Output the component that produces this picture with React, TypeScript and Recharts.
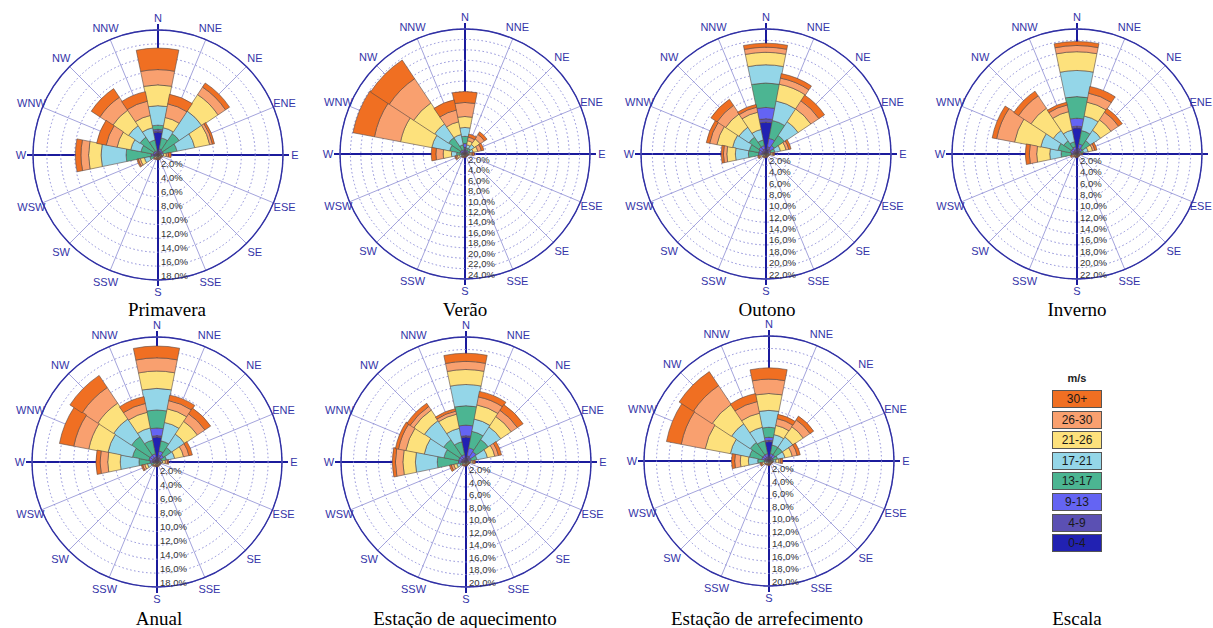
import React from 'react';
import { RadialBarChart, RadialBar, PolarGrid, PolarAngleAxis, PolarRadiusAxis } from 'recharts';

const directions = ['N', 'NNE', 'NE', 'ENE', 'E', 'ESE', 'SE', 'SSE', 'S', 'SSW', 'SW', 'WSW', 'W', 'WNW', 'NW', 'NNW'];
const speedClasses = ['0-4', '4-9', '9-13', '13-17', '17-21', '21-26', '26-30', '30+'];
const classColors = ['#2121b2', '#5b50b3', '#6464f3', '#4cb592', '#94d6e8', '#fde17c', '#f9a06f', '#f06f22'];

// frequency (%) per direction (rows) and speed class (columns, 0-4 ... 30+)
const primavera = [
  [3.3, 0.2, 0.2, 0.6, 2.8, 3.0, 2.2, 3.1],
  [0.3, 0.3, 0.3, 1.6, 1.5, 1.5, 2.0, 1.4],
  [0.3, 0.2, 0.3, 2.9, 3.9, 2.8, 1.3, 0.7],
  [0.2, 0.3, 0.3, 2.0, 2.6, 2.2, 0.4, 0.3],
  [0.1, 0.1, 0.1, 0.2, 0.3, 0.4, 0.3, 0.4],
  [0.1, 0.05, 0.05, 0.1, 0.1, 0.1, 0.1, 0.1],
  [0.1, 0.05, 0.05, 0.05, 0.1, 0.1, 0.05, 0.05],
  [0.1, 0.05, 0.05, 0.1, 0.1, 0.1, 0.1, 0.1],
  [0.1, 0.05, 0.05, 0.1, 0.1, 0.1, 0.1, 0.1],
  [0.1, 0.05, 0.05, 0.1, 0.1, 0.1, 0.1, 0.1],
  [0.1, 0.05, 0.05, 0.1, 0.15, 0.15, 0.1, 0.1],
  [0.2, 0.2, 0.2, 0.6, 0.8, 0.6, 0.3, 0.2],
  [0.3, 0.3, 0.4, 3.6, 3.6, 1.8, 1.1, 0.8],
  [0.2, 0.2, 0.3, 1.8, 1.5, 2.0, 1.6, 1.4],
  [0.2, 0.2, 0.3, 2.4, 2.0, 2.7, 2.2, 1.5],
  [0.2, 0.2, 0.2, 1.6, 1.8, 1.8, 2.1, 1.4],
];
const verao = [
  [0.8, 0.5, 0.7, 1.4, 1.7, 2.1, 2.7, 2.1],
  [0.3, 0.2, 0.3, 0.4, 0.6, 0.8, 0.7, 0.6],
  [0.3, 0.2, 0.3, 0.5, 0.9, 1.3, 1.0, 0.6],
  [0.2, 0.2, 0.2, 0.4, 0.6, 0.9, 0.7, 0.5],
  [0.1, 0.1, 0.1, 0.2, 0.3, 0.4, 0.3, 0.3],
  [0.1, 0.05, 0.05, 0.1, 0.1, 0.1, 0.1, 0.05],
  [0.1, 0.05, 0.05, 0.05, 0.1, 0.1, 0.05, 0.05],
  [0.1, 0.05, 0.05, 0.1, 0.1, 0.1, 0.05, 0.05],
  [0.1, 0.05, 0.05, 0.1, 0.1, 0.1, 0.1, 0.1],
  [0.1, 0.05, 0.05, 0.1, 0.1, 0.1, 0.1, 0.1],
  [0.1, 0.05, 0.1, 0.1, 0.15, 0.15, 0.1, 0.1],
  [0.1, 0.1, 0.2, 0.3, 0.4, 0.4, 0.3, 0.2],
  [0.2, 0.2, 0.3, 0.9, 1.0, 1.6, 1.4, 0.9],
  [0.3, 0.3, 0.4, 2.0, 3.5, 6.1, 5.1, 4.2],
  [0.3, 0.3, 0.4, 2.8, 3.2, 4.8, 5.6, 4.3],
  [0.3, 0.2, 0.3, 1.0, 2.0, 2.5, 2.3, 2.0],
];
const outono = [
  [5.6, 0.6, 2.0, 4.3, 3.2, 2.2, 0.9, 0.7],
  [0.8, 0.5, 1.5, 3.2, 3.5, 3.0, 1.1, 0.8],
  [0.6, 0.4, 0.8, 2.1, 2.9, 2.7, 1.7, 1.2],
  [0.3, 0.2, 0.4, 0.7, 1.0, 1.0, 0.5, 0.4],
  [0.1, 0.1, 0.1, 0.2, 0.3, 0.3, 0.2, 0.2],
  [0.1, 0.05, 0.05, 0.1, 0.1, 0.1, 0.05, 0.05],
  [0.1, 0.05, 0.05, 0.05, 0.1, 0.1, 0.05, 0.05],
  [0.1, 0.05, 0.05, 0.1, 0.1, 0.1, 0.05, 0.05],
  [0.1, 0.05, 0.05, 0.1, 0.1, 0.1, 0.1, 0.05],
  [0.1, 0.05, 0.05, 0.1, 0.1, 0.1, 0.1, 0.1],
  [0.1, 0.05, 0.05, 0.1, 0.1, 0.15, 0.1, 0.1],
  [0.1, 0.1, 0.1, 0.2, 0.3, 0.3, 0.2, 0.2],
  [0.3, 0.3, 0.7, 1.8, 2.3, 1.5, 0.6, 0.4],
  [0.4, 0.3, 0.6, 1.7, 3.0, 2.8, 1.3, 0.6],
  [0.4, 0.4, 0.7, 2.1, 2.1, 2.8, 1.8, 1.3],
  [0.5, 0.4, 0.6, 1.0, 1.9, 3.1, 0.9, 0.5],
];
const inverno = [
  [4.6, 0.3, 1.4, 3.8, 4.6, 3.3, 1.1, 0.7],
  [0.6, 0.4, 0.8, 2.4, 2.6, 2.5, 1.6, 1.2],
  [0.4, 0.3, 0.5, 1.6, 2.2, 2.2, 1.6, 0.8],
  [0.2, 0.2, 0.3, 0.5, 0.8, 0.8, 0.4, 0.4],
  [0.1, 0.1, 0.1, 0.1, 0.2, 0.2, 0.1, 0.1],
  [0.1, 0.05, 0.05, 0.05, 0.1, 0.1, 0.05, 0.05],
  [0.1, 0.05, 0.05, 0.05, 0.05, 0.1, 0.05, 0.05],
  [0.1, 0.05, 0.05, 0.05, 0.1, 0.1, 0.05, 0.05],
  [0.1, 0.05, 0.05, 0.1, 0.1, 0.1, 0.05, 0.05],
  [0.1, 0.05, 0.05, 0.1, 0.1, 0.1, 0.1, 0.05],
  [0.1, 0.05, 0.05, 0.1, 0.1, 0.1, 0.1, 0.1],
  [0.1, 0.1, 0.1, 0.1, 0.2, 0.2, 0.2, 0.2],
  [0.3, 0.3, 0.4, 1.8, 2.0, 2.3, 1.3, 0.7],
  [0.4, 0.3, 0.5, 2.2, 3.1, 4.7, 3.2, 0.8],
  [0.4, 0.3, 0.5, 1.6, 2.2, 4.7, 2.6, 1.0],
  [0.4, 0.4, 0.5, 0.9, 2.1, 3.3, 1.2, 0.5],
];
const anual = [
  [3.6, 0.2, 1.1, 2.6, 3.1, 2.5, 1.9, 1.7],
  [0.6, 0.4, 0.6, 1.5, 2.7, 2.0, 1.2, 0.8],
  [0.4, 0.3, 0.5, 1.3, 2.3, 2.2, 1.3, 1.0],
  [0.2, 0.2, 0.3, 0.7, 1.2, 1.3, 0.8, 0.5],
  [0.1, 0.1, 0.1, 0.2, 0.3, 0.4, 0.3, 0.2],
  [0.1, 0.05, 0.05, 0.1, 0.1, 0.1, 0.1, 0.05],
  [0.1, 0.05, 0.05, 0.05, 0.1, 0.1, 0.05, 0.05],
  [0.1, 0.05, 0.05, 0.1, 0.1, 0.1, 0.1, 0.05],
  [0.1, 0.05, 0.05, 0.1, 0.1, 0.1, 0.1, 0.1],
  [0.1, 0.05, 0.05, 0.1, 0.1, 0.1, 0.1, 0.1],
  [0.1, 0.05, 0.05, 0.1, 0.15, 0.15, 0.1, 0.1],
  [0.2, 0.1, 0.2, 0.4, 0.5, 0.4, 0.3, 0.2],
  [0.3, 0.3, 0.4, 1.6, 2.7, 1.8, 1.1, 0.6],
  [0.4, 0.3, 0.5, 2.4, 3.6, 2.8, 2.2, 2.1],
  [0.4, 0.3, 0.5, 3.2, 3.1, 2.7, 2.7, 2.1],
  [0.4, 0.3, 0.5, 2.0, 1.8, 2.3, 1.3, 1.0],
];
const aquecimento = [
  [4.0, 0.2, 1.7, 3.1, 3.4, 2.4, 1.3, 1.3],
  [0.6, 0.4, 1.3, 2.7, 2.0, 2.3, 1.3, 0.9],
  [0.5, 0.4, 1.1, 2.3, 2.4, 2.0, 1.2, 1.1],
  [0.3, 0.2, 0.4, 0.9, 1.7, 1.2, 0.6, 0.5],
  [0.1, 0.1, 0.1, 0.2, 0.3, 0.3, 0.2, 0.2],
  [0.1, 0.05, 0.05, 0.1, 0.1, 0.1, 0.05, 0.05],
  [0.1, 0.05, 0.05, 0.05, 0.1, 0.1, 0.05, 0.05],
  [0.1, 0.05, 0.05, 0.1, 0.1, 0.1, 0.05, 0.05],
  [0.1, 0.05, 0.05, 0.1, 0.1, 0.1, 0.1, 0.05],
  [0.1, 0.05, 0.05, 0.1, 0.1, 0.1, 0.1, 0.1],
  [0.1, 0.05, 0.05, 0.1, 0.15, 0.15, 0.1, 0.1],
  [0.2, 0.2, 0.2, 0.4, 0.5, 0.5, 0.4, 0.3],
  [0.4, 0.3, 0.5, 3.4, 3.5, 2.0, 1.2, 0.5],
  [0.4, 0.3, 0.5, 2.4, 3.2, 3.0, 1.2, 0.5],
  [0.4, 0.3, 0.5, 3.1, 3.7, 2.0, 0.7, 0.6],
  [0.4, 0.3, 0.5, 2.1, 2.2, 2.3, 0.5, 0.4],
];
const arrefecimento = [
  [3.1, 0.2, 0.5, 1.6, 2.7, 2.7, 2.3, 1.8],
  [0.4, 0.3, 0.5, 1.4, 1.7, 1.5, 1.1, 0.7],
  [0.4, 0.3, 0.5, 1.4, 2.0, 2.0, 1.3, 0.7],
  [0.2, 0.2, 0.3, 0.7, 1.2, 1.2, 0.8, 0.5],
  [0.1, 0.1, 0.2, 0.3, 0.4, 0.5, 0.3, 0.3],
  [0.1, 0.05, 0.05, 0.1, 0.1, 0.1, 0.1, 0.05],
  [0.1, 0.05, 0.05, 0.05, 0.1, 0.1, 0.05, 0.05],
  [0.1, 0.05, 0.05, 0.1, 0.1, 0.1, 0.1, 0.05],
  [0.1, 0.05, 0.05, 0.1, 0.1, 0.1, 0.1, 0.1],
  [0.1, 0.05, 0.05, 0.1, 0.1, 0.1, 0.1, 0.1],
  [0.1, 0.05, 0.05, 0.1, 0.15, 0.15, 0.1, 0.1],
  [0.1, 0.1, 0.1, 0.2, 0.3, 0.3, 0.2, 0.2],
  [0.2, 0.2, 0.3, 1.1, 1.5, 1.3, 0.9, 0.5],
  [0.4, 0.3, 0.5, 2.0, 3.1, 4.1, 3.9, 2.4],
  [0.4, 0.3, 0.5, 2.4, 3.6, 3.7, 3.6, 2.7],
  [0.4, 0.3, 0.5, 2.1, 2.2, 2.3, 1.9, 1.3],
];

const roses = [
  { title: 'Primavera', rows: primavera, max: 18, cx: 158, cy: 155, tx: 167, ty: 310 },
  { title: 'Verão', rows: verao, max: 24, cx: 465, cy: 154, tx: 465, ty: 310 },
  { title: 'Outono', rows: outono, max: 22, cx: 766, cy: 154, tx: 767, ty: 310 },
  { title: 'Inverno', rows: inverno, max: 22, cx: 1077, cy: 154, tx: 1077, ty: 310 },
  { title: 'Anual', rows: anual, max: 18, cx: 157, cy: 462, tx: 159, ty: 619 },
  { title: 'Estação de aquecimento', rows: aquecimento, max: 20, cx: 466, cy: 462, tx: 465, ty: 619 },
  { title: 'Estação de arrefecimento', rows: arrefecimento, max: 20, cx: 769, cy: 461, tx: 767, ty: 619 },
];

const PAGE_W = 1213;
const SIZE = 300;
const R = 125;
const HALF_BAND = 11.25;
const AXIS_BLUE = '#1b1b9c';
const LABEL_BLUE = '#3434a8';
const SANS = '"Liberation Sans", Arial, sans-serif';

const spokeAngles = directions.map((_, i) => 90 - 22.5 * i).filter((a) => a % 90 !== 0);

// the angle axis puts its ticks at the band edge; turn the label to the band centre
function makeDirTick(pageLeft: number) {
  return function DirTick(props: any) {
    const { x, y, payload } = props;
    const c = SIZE / 2;
    const dx = x - c;
    const dy = y - c;
    const rr = Math.sqrt(dx * dx + dy * dy);
    const a = Math.atan2(-dy, dx) + (HALF_BAND * Math.PI) / 180;
    let lx = c + rr * Math.cos(a);
    const ly = c - rr * Math.sin(a);
    // labels falling off the page edge (the reference loses them too)
    if (pageLeft + lx > PAGE_W - 4) return <g />;
    const halfW = (String(payload.value).length * 7.5) / 2;
    if (pageLeft + lx + halfW > PAGE_W - 1) lx = PAGE_W - 1 - halfW - pageLeft;
    return (
      <text x={lx} y={ly} textAnchor="middle" dominantBaseline="central" fontSize={11} fill={LABEL_BLUE} fontFamily={SANS}>
        {payload.value}
      </text>
    );
  };
}

function PctTick(props: any) {
  const { x, y, payload } = props;
  return (
    <text x={x + 3} y={y - 1.5} fontSize={9.5} fill="#333" fontFamily={SANS}>
      {payload.value.toFixed(1).replace('.', ',')}%
    </text>
  );
}

function Rose({ rows, max, cx, cy }: { rows: number[][]; max: number; cx: number; cy: number }) {
  const data = directions.map((dir, i) => {
    const row: Record<string, string | number> = { dir };
    speedClasses.forEach((_, j) => {
      row[`c${j}`] = rows[i][j];
    });
    return row;
  });
  const ticks: number[] = [];
  for (let v = 2; v <= max; v += 2) ticks.push(v);
  const c = SIZE / 2;
  const ext = R + 6;
  const left = cx - c;
  return (
    <div style={{ position: 'absolute', left, top: cy - c, width: SIZE, height: SIZE }}>
      <svg width={SIZE} height={SIZE} style={{ position: 'absolute', left: 0, top: 0 }}>
        <line x1={c} y1={c - ext} x2={c} y2={c + ext} stroke={AXIS_BLUE} strokeWidth={2} />
        <line x1={c - ext} y1={c} x2={c + ext} y2={c} stroke={AXIS_BLUE} strokeWidth={2} />
      </svg>
      <div style={{ position: 'absolute', left: 0, top: 0 }}>
        <RadialBarChart
          width={SIZE}
          height={SIZE}
          data={data}
          layout="centric"
          innerRadius={0}
          outerRadius={R}
          startAngle={90 - HALF_BAND}
          endAngle={90 - HALF_BAND - 360}
          barCategoryGap={0}
          barGap={0}
          margin={{ top: 0, right: 0, bottom: 0, left: 0 }}
        >
          <PolarGrid gridType="circle" polarAngles={spokeAngles} polarRadius={[R]} stroke="#a4a4dc" strokeWidth={1} />
          <PolarAngleAxis
            dataKey="dir"
            type="category"
            axisLineType="circle"
            axisLine={{ stroke: '#3030a4', strokeWidth: 1.4 }}
            tickLine={false}
            tickSize={12}
            tick={makeDirTick(left)}
          />
          <PolarRadiusAxis type="number" domain={[0, max]} ticks={ticks} angle={-90} axisLine={false} tickLine={false} tick={PctTick} />
          {speedClasses.map((name, j) => (
            <RadialBar
              key={name}
              dataKey={`c${j}`}
              name={name}
              stackId="rose"
              fill={classColors[j]}
              stroke="#5a4a44"
              strokeWidth={0.6}
              isAnimationActive={false}
            />
          ))}
          <PolarGrid gridType="circle" radialLines={false} stroke="#8a8ad8" strokeDasharray="1.5 2.5" strokeWidth={1} />
        </RadialBarChart>
      </div>
    </div>
  );
}

function Legend() {
  const order = [...speedClasses].reverse();
  const colors = [...classColors].reverse();
  return (
    <div style={{ position: 'absolute', left: 1052, top: 372, width: 50 }}>
      <div style={{ textAlign: 'center', fontFamily: SANS, fontWeight: 'bold', fontSize: 11, color: '#222', height: 17 }}>m/s</div>
      {order.map((name, i) => (
        <div
          key={name}
          style={{
            position: 'absolute',
            top: 18 + i * 20.6,
            left: 0,
            width: 48,
            height: 16,
            background: colors[i],
            border: '1px solid #555',
            fontFamily: SANS,
            fontSize: 12,
            color: '#1a1a1a',
            textAlign: 'center',
            lineHeight: '16px',
          }}
        >
          {name}
        </div>
      ))}
    </div>
  );
}

const captionStyle: React.CSSProperties = {
  position: 'absolute',
  fontFamily: '"Liberation Serif", "Times New Roman", serif',
  fontSize: 19,
  color: '#000',
  whiteSpace: 'nowrap',
  transform: 'translate(-50%, -50%)',
};

export default function App() {
  return (
    <div style={{ position: 'absolute', left: 0, top: 0, width: PAGE_W, height: 628, background: '#fff', overflow: 'hidden' }}>
      {roses.map((r) => (
        <Rose key={r.title} rows={r.rows} max={r.max} cx={r.cx} cy={r.cy} />
      ))}
      {roses.map((r) => (
        <div key={`t-${r.title}`} style={{ ...captionStyle, left: r.tx, top: r.ty }}>
          {r.title}
        </div>
      ))}
      <Legend />
      <div style={{ ...captionStyle, left: 1077, top: 619 }}>Escala</div>
    </div>
  );
}
